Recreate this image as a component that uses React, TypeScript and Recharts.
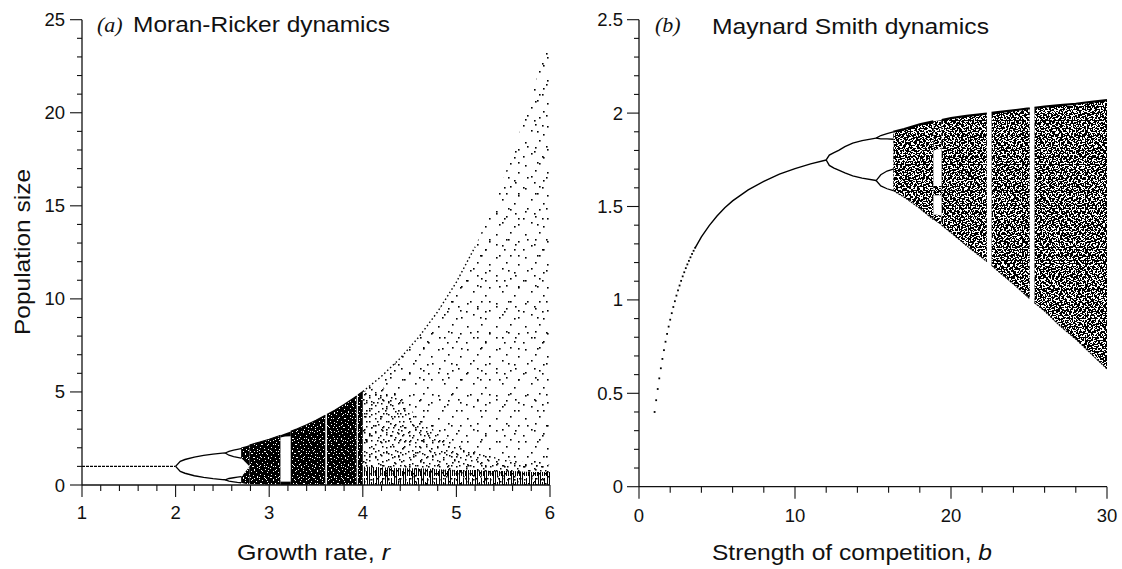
import { ComposedChart, Line, Area, XAxis, YAxis } from "recharts";

const SANS = "'Liberation Sans', Arial, Helvetica, sans-serif";
const SERIF = "'Liberation Serif', 'Times New Roman', serif";
const INK = "#111";

// ---------- (a) Moran-Ricker dynamics ----------
const rStable = [1, 2];
const nStable = [1, 1];

const rCycle2 = [2, 2.05, 2.1, 2.2, 2.3, 2.4, 2.5, 2.53];
const nCycle2Hi = [1, 1.27, 1.37, 1.5, 1.59, 1.66, 1.71, 1.72];
const nCycle2Lo = [1, 0.73, 0.63, 0.5, 0.41, 0.34, 0.29, 0.28];

const rCycle4 = [2.53, 2.57, 2.62, 2.66, 2.7];
const nCycle4A = [1.72, 1.81, 1.87, 1.91, 1.95];
const nCycle4B = [1.72, 1.6, 1.53, 1.49, 1.45];
const nCycle4C = [0.28, 0.35, 0.39, 0.42, 0.45];
const nCycle4D = [0.28, 0.21, 0.17, 0.14, 0.12];

// two chaotic bands before they merge
const rSplit = [2.7, 2.73, 2.76, 2.79];
const splitHiTop = [2.02, 2.06, 2.1, 2.15];
const splitHiLow = [1.45, 1.3, 1.15, 1.0];
const splitLoTop = [0.45, 0.6, 0.8, 1.0];
const splitLoLow = [0.12, 0.08, 0.06, 0.05];

// dense chaos up to r = 4 (null = periodic window)
const rDense = [2.79, 2.9, 3.0, 3.1, 3.12, 3.17, 3.23, 3.3, 3.4, 3.5, 3.6, 3.608, 3.617, 3.7, 3.8, 3.9, 3.935, 3.941, 3.948, 4.0];
const denseTop = [2.15, 2.31, 2.46, 2.63, 2.67, null, 2.88, 3.02, 3.24, 3.48, 3.74, null, 3.79, 4.02, 4.33, 4.66, 4.78, null, 4.83, 5.02];
const denseLow = [0.05, 0.03, 0.02, 0.01, 0.01, null, 0, 0, 0, 0, 0, null, 0, 0, 0, 0, 0, null, 0, 0];

// period-3 window
const rWindow3 = [3.12, 3.17, 3.23];
const window3Top = [2.67, 2.77, 2.88];
const window3TopLow = [2.55, 2.6, 2.62];
const window3Floor = [0.18, 0.18, 0.18];

// sparse chaos r = 4..6
const rSparse = [4.0, 4.2, 4.4, 4.6, 4.8, 5.0, 5.2, 5.4, 5.6, 5.8, 6.0];
const sparseTop = [5.02, 5.84, 6.81, 7.96, 9.31, 10.9, 12.8, 15.1, 17.8, 20.9, 24.2];
const busyTop = [5.02, 5.3, 4.6, 3.6, 2.8, 2.2, 1.8, 1.5, 1.3, 1.2, 1.1];
const floorTop = [1.0, 0.95, 0.9, 0.9, 0.85, 0.8, 0.8, 0.75, 0.75, 0.7, 0.7];

const rTicks = [1, 1.2, 1.4, 1.6, 1.8, 2, 2.2, 2.4, 2.6, 2.8, 3, 3.2, 3.4, 3.6, 3.8, 4, 4.2, 4.4, 4.6, 4.8, 5, 5.2, 5.4, 5.6, 5.8, 6];
const nTicksA = [0, 1, 2, 3, 4, 5, 6, 7, 8, 9, 10, 11, 12, 13, 14, 15, 16, 17, 18, 19, 20, 21, 22, 23, 24, 25];

// ---------- (b) Maynard Smith dynamics ----------
const bDots = [1, 1.1, 1.2, 1.3, 1.4, 1.5, 1.6, 1.7, 1.8, 1.9, 2, 2.1, 2.2, 2.3, 2.4, 2.5, 2.6, 2.7, 2.8, 2.9, 3, 3.1, 3.2, 3.3, 3.4, 3.5, 3.6];
const nDots = [0.4, 0.463, 0.523, 0.58, 0.634, 0.684, 0.731, 0.776, 0.818, 0.857, 0.894, 0.929, 0.962, 0.993, 1.023, 1.051, 1.077, 1.102, 1.126, 1.148, 1.17, 1.19, 1.209, 1.228, 1.246, 1.263, 1.279];

const bStable = [3.6, 4, 4.5, 5, 5.5, 6, 7, 8, 9, 10, 11, 12];
const nStableB = [1.279, 1.337, 1.398, 1.449, 1.493, 1.53, 1.589, 1.635, 1.673, 1.703, 1.728, 1.749];

const bCycle2 = [12, 12.2, 12.5, 12.8, 13.2, 13.7, 14.3, 15.2];
const mCycle2Hi = [1.749, 1.775, 1.788, 1.8, 1.82, 1.839, 1.853, 1.866];
const mCycle2Lo = [1.749, 1.72, 1.706, 1.695, 1.68, 1.664, 1.652, 1.639];

const bCycle4 = [15.2, 15.5, 15.9, 16.3];
const mCycle4A = [1.866, 1.88, 1.89, 1.9];
const mCycle4B = [1.866, 1.862, 1.862, 1.86];
const mCycle4C = [1.639, 1.67, 1.69, 1.7];
const mCycle4D = [1.639, 1.61, 1.595, 1.585];

const bChaos = [16.3, 17, 18, 18.87, 19.1, 19.4, 20, 21, 22, 22.3, 22.45, 22.6, 23, 24, 25, 25.05, 25.2, 25.35, 26, 27, 28, 29, 30];
const chaosHi = [1.9, 1.914, 1.94, 1.956, null, 1.963, 1.973, 1.985, 1.995, 1.998, null, 2.001, 2.005, 2.015, 2.025, 2.026, null, 2.028, 2.035, 2.043, 2.05, 2.06, 2.07];
const chaosLo = [1.585, 1.55, 1.49, 1.43, null, 1.4, 1.36, 1.29, 1.225, 1.205, null, 1.185, 1.155, 1.085, 1.01, 1.006, null, 0.985, 0.94, 0.86, 0.79, 0.71, 0.63];

// periodic window near b = 19
const bWindow = [18.87, 19.4];
const windowTopHi = [1.956, 1.963];
const windowTopLo = [1.8, 1.81];
const windowMidHi = [1.61, 1.61];
const windowMidLo = [1.56, 1.56];
const windowLowHi = [1.46, 1.45];
const windowLowLo = [1.43, 1.4];

const bTicks = [0, 2, 4, 6, 8, 10, 12, 14, 16, 18, 20, 22, 24, 26, 28, 30];
const nTicksB = [0, 0.1, 0.2, 0.3, 0.4, 0.5, 0.6, 0.7, 0.8, 0.9, 1, 1.1, 1.2, 1.3, 1.4, 1.5, 1.6, 1.7, 1.8, 1.9, 2, 2.1, 2.2, 2.3, 2.4, 2.5];

const pts = (xs: number[], ys: (number | null)[]) =>
  xs.map((x, i) => ({ x, y: ys[i] }));

const band = (xs: number[], lo: (number | null)[], hi: (number | null)[]) =>
  xs.map((x, i) => ({ x, v: hi[i] == null ? null : [lo[i], hi[i]] }));

const axisStyle = { stroke: INK, strokeWidth: 1.3 };

function xTick(isMajor: (v: number) => boolean, below: number) {
  return (p: any) => {
    const v = p.payload.value;
    const big = isMajor(v);
    return (
      <g>
        <line x1={p.x} y1={p.y} x2={p.x} y2={p.y + (big ? 12 : 6)} stroke={INK} strokeWidth={1.1} />
        {big && (
          <text x={p.x} y={p.y + below} textAnchor="middle" fontFamily={SANS} fontSize={18.5} fill={INK}>
            {String(v)}
          </text>
        )}
      </g>
    );
  };
}

function yTick(isMajor: (v: number) => boolean, gap: number) {
  return (p: any) => {
    const v = p.payload.value;
    const big = isMajor(v);
    return (
      <g>
        <line x1={p.x - (big ? 12 : 5)} y1={p.y} x2={p.x} y2={p.y} stroke={INK} strokeWidth={1.1} />
        {big && (
          <text x={p.x - gap} y={p.y + 6.5} textAnchor="end" fontFamily={SANS} fontSize={18.5} fill={INK}>
            {String(v)}
          </text>
        )}
      </g>
    );
  };
}

const plain = (data: any[], w = 1.3, dash?: string) => (
  <Line
    data={data}
    dataKey="y"
    stroke="#000"
    strokeWidth={w}
    strokeDasharray={dash}
    dot={false}
    activeDot={false}
    isAnimationActive={false}
  />
);

const shade = (data: any[], fill: string) => (
  <Area
    data={data}
    dataKey="v"
    fill={fill}
    fillOpacity={1}
    stroke="none"
    activeDot={false}
    isAnimationActive={false}
  />
);

const dotShape = (p: any) => (
  <rect key={"d" + p.index} x={p.cx - 0.9} y={p.cy - 0.9} width={1.8} height={1.8} fill="#000" />
);

// speck pattern: a tile with small squares at hand-placed spots
function Specks(props: { id: string; w: number; h: number; color: string; cells: number[][] }) {
  return (
    <pattern id={props.id} width={props.w} height={props.h} patternUnits="userSpaceOnUse">
      {props.cells.map((c, i) => (
        <rect key={i} x={c[0]} y={c[1]} width={c[2]} height={c[3]} fill={props.color} />
      ))}
    </pattern>
  );
}

function RickerPanel() {
  const zero = rSparse.map(() => 0);
  const dense = [
    band(rDense, denseLow, denseTop),
    band(rSplit, splitHiLow, splitHiTop),
    band(rSplit, splitLoLow, splitLoTop),
  ];
  return (
    <ComposedChart width={570} height={569} margin={{ top: 19.7, right: 20, bottom: 44, left: 22 }}>
      <defs>
        <Specks id="pa-w1" w={11} h={9} color="#fff" cells={[[1, 1, 1, 1], [6, 0, 1, 1], [9, 3, 1, 1], [3, 4, 1, 1], [7, 6, 1, 1], [0, 7, 1, 1], [4, 8, 1, 1]]} />
        <Specks id="pa-w2" w={7} h={13} color="#fff" cells={[[2, 2, 1, 1], [5, 9, 1, 1], [0, 11, 1, 1]]} />
        <Specks id="pa-s1" w={29} h={23} color="#000" cells={[[3, 4, 1.6, 1.6], [17, 2, 1.6, 1.6], [25, 11, 1.6, 1.6], [9, 15, 1.6, 1.6], [21, 19, 1.6, 1.6], [13, 9, 1.6, 1.6]]} />
        <Specks id="pa-s2" w={19} h={31} color="#000" cells={[[5, 7, 1.6, 1.6], [14, 22, 1.6, 1.6], [10, 1, 1.6, 1.6], [2, 27, 1.6, 1.6]]} />
        <Specks id="pa-b1" w={17} h={13} color="#000" cells={[[1, 2, 1.5, 1.5], [7, 0, 1.5, 1.5], [12, 5, 1.5, 1.5], [4, 8, 1.5, 1.5], [14, 11, 1.5, 1.5], [9, 10, 1.5, 1.5]]} />
        <Specks id="pa-b2" w={11} h={19} color="#000" cells={[[3, 3, 1.5, 1.5], [8, 9, 1.5, 1.5], [1, 14, 1.5, 1.5], [6, 17, 1.5, 1.5]]} />
        <Specks id="pa-floor" w={9} h={14} color="#000" cells={[[0, 0, 1, 14], [2, 6, 1, 8], [4, 2, 1, 12], [6, 9, 1, 5], [7, 0, 1, 14]]} />
      </defs>

      <XAxis
        type="number"
        dataKey="x"
        domain={[1, 6]}
        ticks={rTicks}
        interval={0}
        allowDataOverflow
        height={40}
        tickSize={0}
        tickMargin={0}
        tickLine={false}
        axisLine={axisStyle}
        tick={xTick((v) => Number.isInteger(v), 34)}
      />
      <YAxis
        type="number"
        domain={[0, 25]}
        ticks={nTicksA}
        interval={0}
        allowDataOverflow
        width={60}
        tickSize={0}
        tickMargin={0}
        tickLine={false}
        axisLine={axisStyle}
        tick={yTick((v) => v % 5 === 0, 17)}
      />

      {shade(band(rSparse, zero, sparseTop), "url(#pa-s1)")}
      {shade(band(rSparse, zero, sparseTop), "url(#pa-s2)")}
      {shade(band(rSparse, zero, busyTop), "url(#pa-b1)")}
      {shade(band(rSparse, zero, busyTop), "url(#pa-b2)")}
      {shade(band(rSparse, zero, floorTop), "url(#pa-floor)")}

      {dense.map((d) => shade(d, "#000"))}
      {shade(band(rWindow3, window3TopLow, window3Top), "#000")}
      {shade(band(rWindow3, rWindow3.map(() => 0), window3Floor), "#000")}
      {dense.map((d) => shade(d, "url(#pa-w1)"))}
      {dense.map((d) => shade(d, "url(#pa-w2)"))}

      {plain(pts(rSparse.slice(0, 7), sparseTop.slice(0, 7)), 1.4, "1.5 2.5")}
      {plain(pts(rDense, denseTop), 1.2)}
      {plain(pts(rStable, nStable), 1.3, "3 1")}
      {plain(pts(rCycle2, nCycle2Hi), 1.4)}
      {plain(pts(rCycle2, nCycle2Lo), 1.4)}
      {plain(pts(rCycle4, nCycle4A), 1.3)}
      {plain(pts(rCycle4, nCycle4B), 1.3)}
      {plain(pts(rCycle4, nCycle4C), 1.3)}
      {plain(pts(rCycle4, nCycle4D), 1.3)}

      <text x={97} y={32} fontFamily={SERIF} fontStyle="italic" fontSize={22} fill={INK}>
        (a)
      </text>
      <text x={133} y={32} fontFamily={SANS} fontSize={22} fill={INK} textLength={257} lengthAdjust="spacingAndGlyphs">
        Moran-Ricker dynamics
      </text>
      <text x={313.5} y={560} textAnchor="middle" fontFamily={SANS} fontSize={22.5} fill={INK} textLength={153} lengthAdjust="spacingAndGlyphs">
        Growth rate, <tspan fontStyle="italic">r</tspan>
      </text>
      <text
        x={30}
        y={252}
        transform="rotate(-90, 30, 252)"
        textAnchor="middle"
        fontFamily={SANS}
        fontSize={22.5}
        fill={INK}
        textLength={166}
        lengthAdjust="spacingAndGlyphs"
      >
        Population size
      </text>
    </ComposedChart>
  );
}

function SmithPanel() {
  const chaos = [
    band(bChaos, chaosLo, chaosHi),
    band(bWindow, windowTopLo, windowTopHi),
    band(bWindow, windowMidLo, windowMidHi),
    band(bWindow, windowLowLo, windowLowHi),
  ];
  return (
    <ComposedChart width={552} height={569} margin={{ top: 19.7, right: 15, bottom: 42.3, left: 9 }}>
      <defs>
        <Specks id="pb-w1" w={9} h={11} color="#fff" cells={[[0, 0, 2, 1], [4, 1, 1, 2], [7, 3, 1, 1], [2, 4, 2, 1], [6, 6, 2, 1], [1, 8, 1, 2], [5, 9, 2, 1], [8, 8, 1, 1], [3, 6, 1, 1], [8, 0, 1, 2], [0, 5, 1, 1]]} />
        <Specks id="pb-w2" w={13} h={7} color="#fff" cells={[[1, 1, 1, 1], [5, 0, 2, 1], [9, 2, 1, 2], [3, 4, 2, 1], [11, 5, 1, 1], [7, 5, 1, 2], [0, 6, 1, 1], [12, 0, 1, 1], [4, 6, 1, 1]]} />
        <Specks id="pb-w3" w={7} h={17} color="#fff" cells={[[2, 2, 1, 1], [5, 6, 1, 2], [0, 10, 2, 1], [3, 13, 1, 1], [6, 15, 1, 1]]} />
        <Specks id="pb-w4" w={11} h={13} color="#fff" cells={[[2, 1, 2, 1], [8, 2, 1, 1], [5, 4, 1, 2], [0, 6, 1, 1], [9, 7, 2, 1], [3, 9, 1, 1], [6, 11, 2, 1], [1, 12, 1, 1], [10, 10, 1, 1]]} />
      </defs>

      <XAxis
        type="number"
        dataKey="x"
        domain={[0, 30]}
        ticks={bTicks}
        interval={0}
        allowDataOverflow
        height={40}
        tickSize={0}
        tickMargin={0}
        tickLine={false}
        axisLine={axisStyle}
        tick={xTick((v) => v % 10 === 0, 35)}
      />
      <YAxis
        type="number"
        domain={[0, 2.5]}
        ticks={nTicksB}
        interval={0}
        allowDataOverflow
        width={60}
        tickSize={0}
        tickMargin={0}
        tickLine={false}
        axisLine={axisStyle}
        tick={yTick((v) => Math.abs(v * 2 - Math.round(v * 2)) < 1e-6, 16)}
      />

      {chaos.map((d) => shade(d, "#000"))}
      {chaos.map((d) => shade(d, "url(#pb-w1)"))}
      {chaos.map((d) => shade(d, "url(#pb-w2)"))}
      {chaos.map((d) => shade(d, "url(#pb-w3)"))}
      {chaos.map((d) => shade(d, "url(#pb-w4)"))}
      {plain(pts(bChaos, chaosHi), 2.2)}
      {plain(pts(bChaos, chaosLo), 1.1, "2 1")}

      <Line
        data={pts(bDots, nDots)}
        dataKey="y"
        stroke="none"
        dot={dotShape}
        activeDot={false}
        isAnimationActive={false}
      />
      {plain(pts(bStable, nStableB), 1.4)}
      {plain(pts(bCycle2, mCycle2Hi), 1.4)}
      {plain(pts(bCycle2, mCycle2Lo), 1.4)}
      {plain(pts(bCycle4, mCycle4A), 1.3)}
      {plain(pts(bCycle4, mCycle4B), 1.3)}
      {plain(pts(bCycle4, mCycle4C), 1.3)}
      {plain(pts(bCycle4, mCycle4D), 1.3)}

      <text x={85} y={32} fontFamily={SERIF} fontStyle="italic" fontSize={22} fill={INK}>
        (b)
      </text>
      <text x={142} y={33.5} fontFamily={SANS} fontSize={22} fill={INK} textLength={277} lengthAdjust="spacingAndGlyphs">
        Maynard Smith dynamics
      </text>
      <text x={282} y={560} textAnchor="middle" fontFamily={SANS} fontSize={22.5} fill={INK} textLength={280} lengthAdjust="spacingAndGlyphs">
        Strength of competition, <tspan fontStyle="italic">b</tspan>
      </text>
    </ComposedChart>
  );
}

export default function App() {
  return (
    <div style={{ position: "absolute", left: 0, top: 0, width: 1122, height: 569, background: "#fff" }}>
      <div style={{ position: "absolute", left: 0, top: 0 }}>
        <RickerPanel />
      </div>
      <div style={{ position: "absolute", left: 570, top: 0 }}>
        <SmithPanel />
      </div>
    </div>
  );
}
